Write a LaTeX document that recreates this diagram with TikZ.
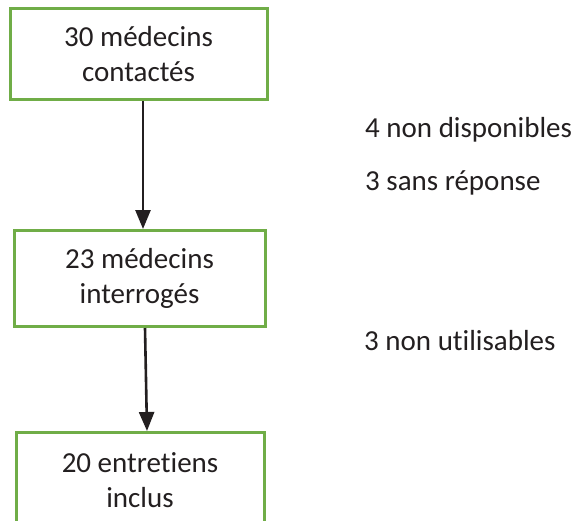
\documentclass[tikz,border=0pt]{standalone}
\usepackage{fontspec}
\setmainfont[RawFeature={-liga,-clig,-dlig}]{Carlito}
\usepackage{xcolor}
\usetikzlibrary{arrows.meta}
\definecolor{boxgreen}{HTML}{70AD47}
\definecolor{texte}{HTML}{231F20}

\tikzset{
    etape/.style={draw=boxgreen, line width=3pt, fill=white, inner sep=0pt, text=texte,
        anchor=north, align=center, font=\fontsize{29}{35}\selectfont},
    fleche/.style={line width=2.6pt, texte, -{Triangle[width=15pt,length=19pt]}},
    exclus/.style={anchor=base west, inner sep=0pt, text=texte, font=\fontsize{29}{35}\selectfont}
}

\begin{document}
\begin{tikzpicture}[x=1pt,y=-1pt]
        \useasboundingbox (0,0) rectangle (577,520);
        \clip (0,0) rectangle (577,520);
        \fill[white] (0,0) rectangle (577,520);
        \node[etape, minimum width=257pt, minimum height=91pt] (contact) at (138.5,7) {30 médecins\\contactés};
        \node[etape, minimum width=251pt, minimum height=96pt] (interro) at (139.5,229) {23 médecins\\interrogés};
        \node[etape, minimum width=248pt, minimum height=95pt] (inclus) at (140,431) {20 entretiens\\inclus};
        \draw[fleche] ([xshift=4.5pt]contact.south) -- ([xshift=3.5pt]interro.north);
        \draw[fleche] ([xshift=5.5pt]interro.south) -- ([xshift=7pt]inclus.north);
        \node[exclus] (nondispo) at (365,137) {4 non disponibles};
        \node[exclus] (sansrep) at (365,190) {3 sans réponse};
        \node[exclus] (nonutil) at (364,350) {3 non utilisables};
    \end{tikzpicture}
\end{document}
